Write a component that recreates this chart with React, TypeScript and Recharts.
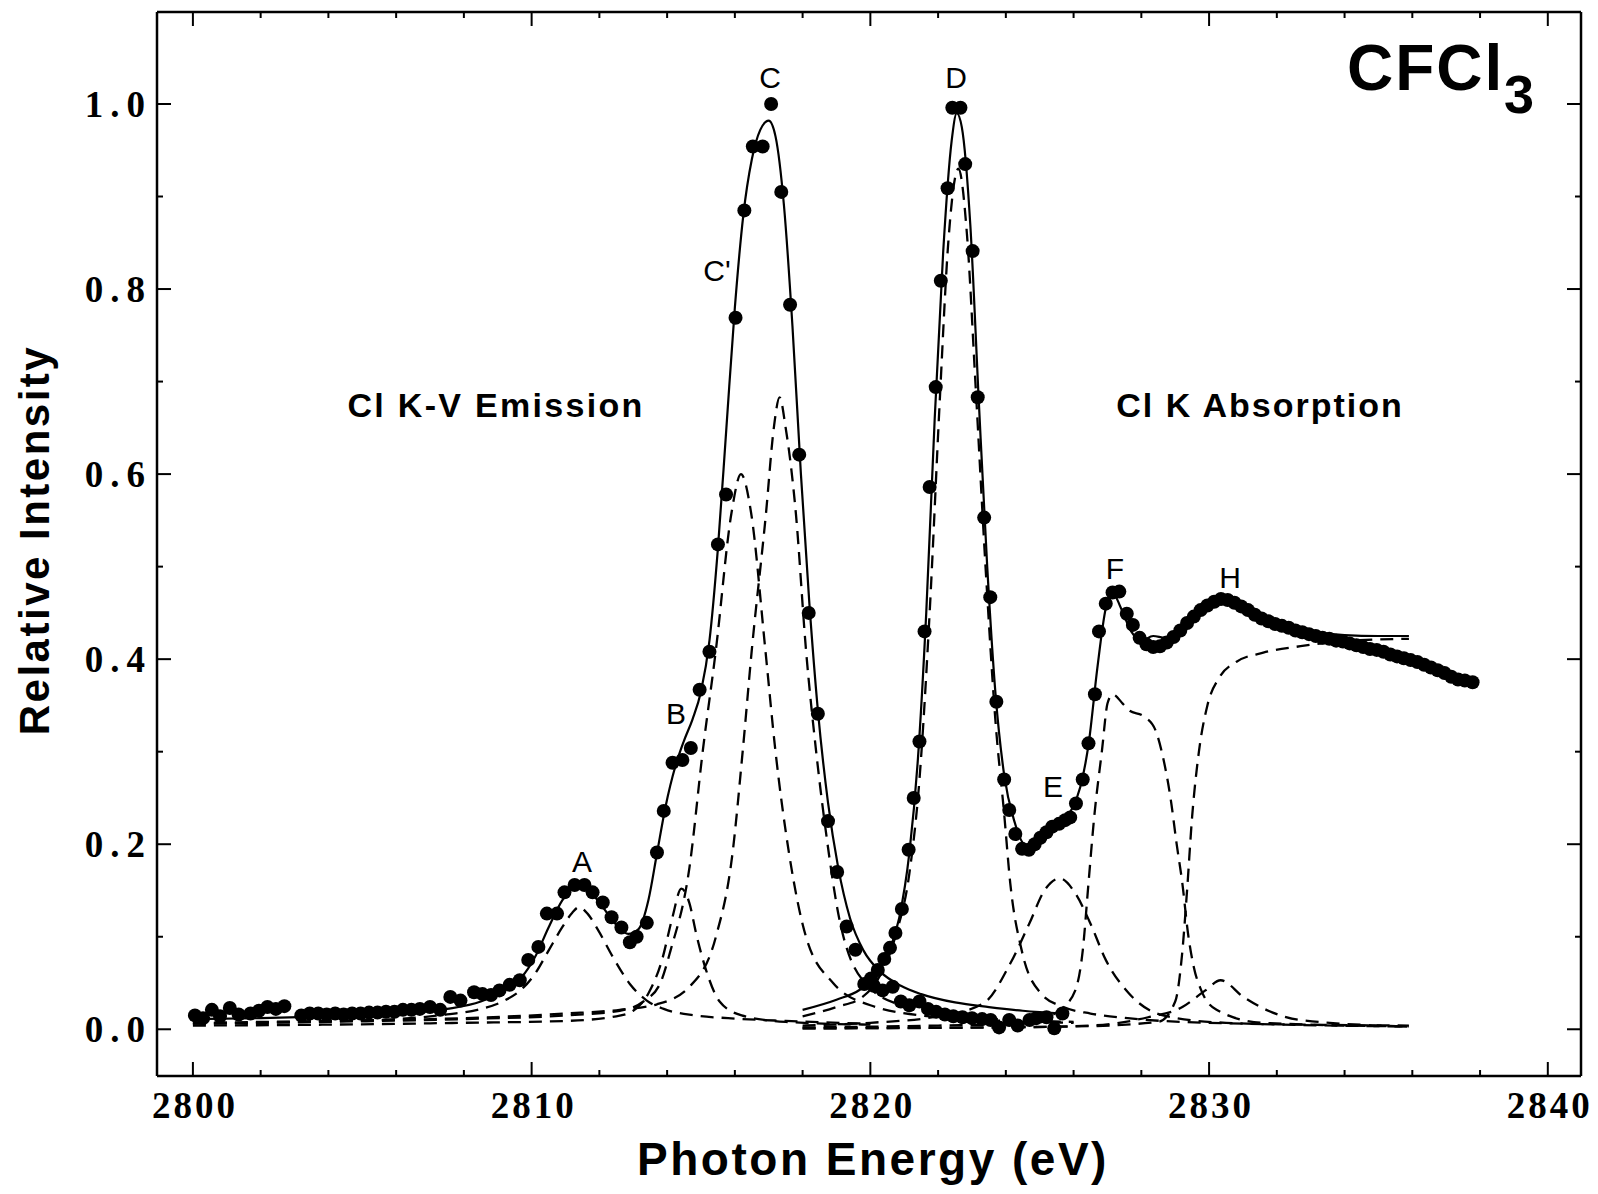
import React from "react";
import { ComposedChart, Line, Scatter, XAxis, YAxis } from "recharts";

// measured points (photon energy eV, relative intensity)
const emissionPoints = [
  [2800.06, 0.015], [2800.3, 0.012], [2800.56, 0.021], [2800.8, 0.014], [2801.09, 0.023], [2801.35, 0.016],
  [2801.7, 0.017], [2801.95, 0.02], [2802.2, 0.024], [2802.45, 0.022], [2802.7, 0.025], [2803.2, 0.015],
  [2803.45, 0.017], [2803.7, 0.017], [2803.95, 0.016], [2804.2, 0.017], [2804.45, 0.016], [2804.7, 0.017],
  [2804.95, 0.017], [2805.2, 0.018], [2805.45, 0.018], [2805.7, 0.019], [2805.95, 0.019], [2806.2, 0.021],
  [2806.45, 0.021], [2806.7, 0.022], [2807.0, 0.024], [2807.3, 0.021], [2807.6, 0.035], [2807.9, 0.031],
  [2808.3, 0.04], [2808.55, 0.038], [2808.8, 0.037], [2809.05, 0.042], [2809.35, 0.048], [2809.65, 0.053],
  [2809.9, 0.075], [2810.2, 0.089], [2810.45, 0.125], [2810.75, 0.125], [2810.97, 0.148], [2811.27, 0.156],
  [2811.56, 0.156], [2811.8, 0.148], [2812.1, 0.137], [2812.36, 0.121], [2812.65, 0.11], [2812.9, 0.094],
  [2813.1, 0.1], [2813.4, 0.115], [2813.7, 0.191], [2813.9, 0.236], [2814.16, 0.288], [2814.45, 0.291],
  [2814.7, 0.304], [2814.96, 0.367], [2815.25, 0.408], [2815.5, 0.524], [2815.74, 0.578], [2816.02, 0.769],
  [2816.28, 0.885], [2816.53, 0.954], [2816.82, 0.954], [2817.07, 1.0], [2817.37, 0.905], [2817.63, 0.783],
  [2817.9, 0.621], [2818.18, 0.45], [2818.45, 0.341], [2818.75, 0.225], [2819.02, 0.17], [2819.3, 0.111],
  [2819.56, 0.086], [2819.82, 0.049], [2820.1, 0.047], [2820.36, 0.042], [2820.66, 0.046], [2820.9, 0.03],
  [2821.15, 0.026], [2821.45, 0.03], [2821.7, 0.022], [2821.94, 0.019], [2822.2, 0.016], [2822.45, 0.014],
  [2822.72, 0.013], [2823.0, 0.012], [2823.3, 0.011], [2823.55, 0.01], [2823.8, 0.002], [2824.1, 0.01],
  [2824.35, 0.004], [2824.7, 0.01], [2824.9, 0.012], [2825.2, 0.013], [2825.43, 0.001], [2825.67, 0.017],
];

const absorptionPoints = [
  [2820.02, 0.055], [2820.22, 0.064], [2820.41, 0.076], [2820.58, 0.088], [2820.74, 0.104], [2820.93, 0.13],
  [2821.13, 0.194], [2821.28, 0.25], [2821.45, 0.311], [2821.6, 0.43], [2821.75, 0.586], [2821.93, 0.694],
  [2822.08, 0.809], [2822.28, 0.909], [2822.42, 0.996], [2822.66, 0.996], [2822.8, 0.935], [2823.02, 0.841],
  [2823.17, 0.683], [2823.36, 0.553], [2823.54, 0.467], [2823.72, 0.354], [2823.95, 0.27], [2824.1, 0.237],
  [2824.28, 0.211], [2824.48, 0.195], [2824.68, 0.194], [2824.85, 0.2], [2825.02, 0.207], [2825.2, 0.213],
  [2825.37, 0.219], [2825.57, 0.222], [2825.75, 0.226], [2825.9, 0.229], [2826.07, 0.244], [2826.27, 0.27],
  [2826.44, 0.309], [2826.63, 0.362], [2826.75, 0.43], [2826.95, 0.46], [2827.15, 0.472], [2827.35, 0.473],
  [2827.57, 0.449], [2827.75, 0.437], [2827.95, 0.423], [2828.15, 0.416], [2828.35, 0.413], [2828.55, 0.414],
  [2828.75, 0.418], [2828.95, 0.424], [2829.15, 0.431], [2829.35, 0.439], [2829.55, 0.446], [2829.75, 0.453],
  [2829.95, 0.458], [2830.15, 0.462], [2830.35, 0.465], [2830.55, 0.464], [2830.75, 0.461], [2830.95, 0.457],
  [2831.15, 0.453], [2831.35, 0.448], [2831.55, 0.444], [2831.75, 0.441], [2831.95, 0.438], [2832.15, 0.436],
  [2832.35, 0.434], [2832.55, 0.431], [2832.75, 0.429], [2832.95, 0.427], [2833.15, 0.425], [2833.35, 0.423],
  [2833.55, 0.422], [2833.75, 0.42], [2833.95, 0.419], [2834.15, 0.417], [2834.35, 0.415], [2834.55, 0.413],
  [2834.75, 0.411], [2834.95, 0.41], [2835.15, 0.408], [2835.35, 0.405], [2835.55, 0.403], [2835.75, 0.401],
  [2835.95, 0.399], [2836.15, 0.397], [2836.35, 0.394], [2836.55, 0.391], [2836.75, 0.388], [2836.95, 0.385],
  [2837.15, 0.381], [2837.35, 0.378], [2837.55, 0.377], [2837.78, 0.375],
];

// least-squares fits (solid)
const emissionFit = [
  [2800, 0.011], [2802, 0.012], [2804, 0.014], [2806, 0.017], [2807.5, 0.022], [2808.5, 0.03], [2809.2, 0.042],
  [2809.7, 0.056], [2810.1, 0.078], [2810.5, 0.11], [2810.9, 0.139], [2811.2, 0.152], [2811.45, 0.155],
  [2811.75, 0.148], [2812.1, 0.132], [2812.5, 0.113], [2812.85, 0.103], [2813.15, 0.108], [2813.45, 0.14],
  [2813.7, 0.19], [2813.95, 0.24], [2814.25, 0.285], [2814.5, 0.312], [2814.75, 0.335], [2815.0, 0.365],
  [2815.25, 0.42], [2815.5, 0.52], [2815.75, 0.65], [2816.0, 0.78], [2816.25, 0.88], [2816.5, 0.94],
  [2816.75, 0.972], [2817.0, 0.982], [2817.2, 0.965], [2817.45, 0.89], [2817.7, 0.76], [2817.95, 0.6],
  [2818.2, 0.46], [2818.45, 0.345], [2818.75, 0.245], [2819.05, 0.175], [2819.4, 0.12], [2819.8, 0.085],
  [2820.3, 0.062], [2820.9, 0.047], [2821.5, 0.038], [2822.5, 0.029], [2823.5, 0.024], [2824.5, 0.02],
  [2825.7, 0.017],
];

const absorptionFit = [
  [2818, 0.021], [2819, 0.032], [2819.7, 0.043], [2820.1, 0.056], [2820.5, 0.08], [2820.85, 0.12],
  [2821.15, 0.19], [2821.4, 0.29], [2821.65, 0.45], [2821.9, 0.66], [2822.15, 0.84], [2822.4, 0.96],
  [2822.55, 0.99], [2822.7, 0.975], [2822.95, 0.87], [2823.2, 0.68], [2823.45, 0.5], [2823.7, 0.36],
  [2823.95, 0.275], [2824.25, 0.225], [2824.55, 0.2], [2824.85, 0.198], [2825.2, 0.208], [2825.6, 0.222],
  [2825.95, 0.238], [2826.2, 0.262], [2826.45, 0.31], [2826.7, 0.39], [2826.95, 0.455], [2827.15, 0.472],
  [2827.4, 0.455], [2827.7, 0.43], [2828.0, 0.42], [2828.35, 0.425], [2828.7, 0.423], [2829.1, 0.428],
  [2829.5, 0.44], [2830.0, 0.455], [2830.5, 0.462], [2831.0, 0.456], [2831.5, 0.447], [2832.0, 0.439],
  [2833.0, 0.43], [2834.0, 0.426], [2835.0, 0.425], [2835.9, 0.425],
];

// fitted components (dashed)
const peakA = [
  [2800, 0.006], [2803, 0.008], [2806, 0.011], [2807.5, 0.016], [2808.4, 0.021], [2809.2, 0.031], [2809.7, 0.043],
  [2810.1, 0.06], [2810.5, 0.085], [2810.9, 0.11], [2811.2, 0.126], [2811.4, 0.132], [2811.65, 0.125],
  [2811.95, 0.108], [2812.4, 0.078], [2812.9, 0.049], [2813.4, 0.031], [2813.9, 0.022], [2814.8, 0.015],
  [2815.8, 0.012], [2817.5, 0.009], [2820, 0.006],
];
const peakB = [
  [2800, 0.004], [2804, 0.005], [2808, 0.007], [2811, 0.009], [2812.5, 0.014], [2813.0, 0.02], [2813.45, 0.039],
  [2813.85, 0.075], [2814.15, 0.12], [2814.42, 0.152], [2814.66, 0.136], [2814.86, 0.103], [2815.15, 0.064],
  [2815.55, 0.03], [2816.2, 0.015], [2817.5, 0.008], [2820, 0.005],
];
const peakCp = [
  [2800, 0.006], [2804, 0.008], [2808, 0.011], [2811, 0.015], [2812.6, 0.02], [2813.3, 0.03], [2813.8, 0.05],
  [2814.1, 0.085], [2814.66, 0.175], [2815.05, 0.3], [2815.44, 0.41], [2815.9, 0.558], [2816.18, 0.6],
  [2816.48, 0.558], [2816.9, 0.41], [2817.2, 0.3], [2817.6, 0.19], [2818.1, 0.1], [2818.9, 0.05],
  [2820, 0.026], [2822, 0.013], [2824, 0.009], [2826, 0.007],
];
const peakC = [
  [2800, 0.007], [2804, 0.009], [2808, 0.012], [2811, 0.017], [2812.6, 0.021], [2813.7, 0.027], [2814.66, 0.046],
  [2815.44, 0.1], [2815.93, 0.19], [2816.23, 0.3], [2816.5, 0.41], [2816.92, 0.558], [2817.15, 0.65],
  [2817.32, 0.683], [2817.5, 0.65], [2817.8, 0.558], [2818.1, 0.41], [2818.4, 0.3], [2818.7, 0.21],
  [2819.08, 0.12], [2819.87, 0.049], [2821, 0.025], [2823, 0.013], [2826, 0.008],
];
const peakD = [
  [2818, 0.014], [2819, 0.024], [2819.77, 0.035], [2820.27, 0.057], [2820.76, 0.103], [2821.15, 0.168],
  [2821.45, 0.27], [2821.75, 0.45], [2822.05, 0.68], [2822.3, 0.85], [2822.6, 0.93], [2822.85, 0.86],
  [2823.1, 0.7], [2823.4, 0.5], [2823.7, 0.33], [2823.95, 0.233], [2824.13, 0.158], [2824.47, 0.085],
  [2825.03, 0.039], [2825.7, 0.024], [2826.5, 0.017], [2827.6, 0.012], [2829.9, 0.007], [2835.9, 0.004],
];
const peakE = [
  [2818, 0.004], [2820, 0.007], [2822, 0.014], [2823.34, 0.028], [2824.13, 0.071], [2824.69, 0.114],
  [2825.14, 0.15], [2825.59, 0.163], [2826.05, 0.147], [2826.5, 0.114], [2826.95, 0.075], [2827.63, 0.039],
  [2828.64, 0.015], [2830.5, 0.007], [2835.9, 0.003],
];
const peakF = [
  [2818, 0.002], [2822, 0.004], [2824.24, 0.006], [2825.0, 0.011], [2825.6, 0.021], [2826.05, 0.042],
  [2826.27, 0.085], [2826.44, 0.158], [2826.61, 0.23], [2826.84, 0.302], [2827.0, 0.352], [2827.15, 0.362],
  [2827.45, 0.352], [2827.63, 0.345], [2828.08, 0.338], [2828.42, 0.323], [2828.64, 0.294], [2828.87, 0.248],
  [2829.04, 0.201], [2829.21, 0.158], [2829.38, 0.103], [2829.55, 0.067], [2829.77, 0.042], [2830.22, 0.021],
  [2831.58, 0.007], [2835.9, 0.003],
];
const peakG = [
  [2818, 0.001], [2824, 0.002], [2826.5, 0.004], [2828.2, 0.013], [2829.21, 0.024], [2829.89, 0.042],
  [2830.34, 0.053], [2831.01, 0.035], [2831.69, 0.021], [2832.71, 0.01], [2835.9, 0.003],
];
const edgeH = [
  [2818, 0.001], [2826, 0.003], [2828.5, 0.008], [2829.0, 0.03], [2829.2, 0.08], [2829.35, 0.15],
  [2829.5, 0.23], [2829.7, 0.3], [2829.95, 0.35], [2830.3, 0.38], [2830.8, 0.397], [2831.6, 0.407],
  [2832.7, 0.414], [2833.8, 0.419], [2835.9, 0.422],
];

const components = [peakA, peakB, peakCp, peakC, peakD, peakE, peakF, peakG, edgeH];

const xTicks = [2800, 2802, 2804, 2806, 2808, 2810, 2812, 2814, 2816, 2818, 2820, 2822, 2824, 2826, 2828, 2830, 2832, 2834, 2836, 2838, 2840];
const yTicks = [0, 0.1, 0.2, 0.3, 0.4, 0.5, 0.6, 0.7, 0.8, 0.9, 1.0];

const xDomain = [2798.94, 2840.98];
const yDomain = [-0.0505, 1.0994];

const rows = (pts: number[][]) => pts.map(([e, v]) => ({ e, v }));

const serifBold = { fontFamily: "'Liberation Serif', serif", fontWeight: 700, fontSize: 37 };
const sansBold = "'Liberation Sans', Arial, sans-serif";

const isMajorX = (v: number) => v % 10 === 0;
const isMajorY = (v: number) => Math.round(v * 10) % 2 === 0;

function BottomTick({ x, y, payload }: any) {
  const major = isMajorX(payload.value);
  return (
    <g>
      <line x1={x} x2={x} y1={y} y2={y - (major ? 14 : 6)} stroke="#000" strokeWidth={2} />
      {major && (
        <text x={x} y={y + 42} dx={2} textAnchor="middle" style={{ ...serifBold, letterSpacing: 3 }} fill="#000">
          {payload.value}
        </text>
      )}
    </g>
  );
}

function TopTick({ x, y, payload }: any) {
  const major = isMajorX(payload.value);
  return <line x1={x} x2={x} y1={y} y2={y + (major ? 14 : 6)} stroke="#000" strokeWidth={2} />;
}

function LeftTick({ x, y, payload }: any) {
  const major = isMajorY(payload.value);
  return (
    <g>
      <line x1={x} x2={x + (major ? 14 : 6)} y1={y} y2={y} stroke="#000" strokeWidth={2} />
      {major && (
        <text x={x - 12} y={y + 13} dx={7} textAnchor="end" style={{ ...serifBold, letterSpacing: 7 }} fill="#000">
          {payload.value.toFixed(1)}
        </text>
      )}
    </g>
  );
}

function RightTick({ x, y, payload }: any) {
  const major = isMajorY(payload.value);
  return <line x1={x} x2={x - (major ? 14 : 6)} y1={y} y2={y} stroke="#000" strokeWidth={2} />;
}

const Dot = (p: any) => <circle cx={p.cx} cy={p.cy} r={7} fill="#000" />;

const axisLine = { stroke: "#000", strokeWidth: 2.5 };

export default function App() {
  return (
    <div style={{ position: "absolute", left: 0, top: 0, width: 1598, height: 1194, background: "#fff" }}>
      <ComposedChart width={1598} height={1194} margin={{ top: 2, right: 7, bottom: 78, left: 97 }}>
        <XAxis
          dataKey="e"
          type="number"
          domain={xDomain}
          allowDataOverflow
          ticks={xTicks}
          interval={0}
          tick={<BottomTick />}
          tickLine={false}
          tickSize={0}
          tickMargin={0}
          height={40}
          axisLine={axisLine}
        />
        <XAxis
          xAxisId="top"
          orientation="top"
          dataKey="e"
          type="number"
          domain={xDomain}
          allowDataOverflow
          ticks={xTicks}
          interval={0}
          tick={<TopTick />}
          tickLine={false}
          tickSize={0}
          tickMargin={0}
          height={10}
          axisLine={axisLine}
        />
        <YAxis
          dataKey="v"
          type="number"
          domain={yDomain}
          allowDataOverflow
          ticks={yTicks}
          interval={0}
          tick={<LeftTick />}
          tickLine={false}
          tickSize={0}
          tickMargin={0}
          width={60}
          axisLine={axisLine}
        />
        <YAxis
          yAxisId="right"
          orientation="right"
          dataKey="v"
          type="number"
          domain={yDomain}
          allowDataOverflow
          ticks={yTicks}
          interval={0}
          tick={<RightTick />}
          tickLine={false}
          tickSize={0}
          tickMargin={0}
          width={10}
          axisLine={axisLine}
        />

        {components.map((c, i) => (
          <Line
            key={`comp-${i}`}
            data={rows(c)}
            dataKey="v"
            type="monotone"
            stroke="#000"
            strokeWidth={2.3}
            strokeDasharray="13 8"
            dot={false}
            activeDot={false}
            isAnimationActive={false}
          />
        ))}
        <Line data={rows(emissionFit)} dataKey="v" type="monotone" stroke="#000" strokeWidth={2.2} dot={false} activeDot={false} isAnimationActive={false} />
        <Line data={rows(absorptionFit)} dataKey="v" type="monotone" stroke="#000" strokeWidth={2.2} dot={false} activeDot={false} isAnimationActive={false} />
        {/* invisible series so the frame axes on top/right have a data source */}
        <Line xAxisId="top" yAxisId="right" data={rows(absorptionFit)} dataKey="v" stroke="none" dot={false} activeDot={false} isAnimationActive={false} />
        <Scatter data={rows(emissionPoints)} shape={Dot} isAnimationActive={false} />
        <Scatter data={rows(absorptionPoints)} shape={Dot} isAnimationActive={false} />
      </ComposedChart>

      <svg width={1598} height={1194} style={{ position: "absolute", left: 0, top: 0, pointerEvents: "none" }}>
        <g fontFamily={sansBold} fontWeight={700} fill="#000">
          <text x={1347} y={90} fontSize={64} letterSpacing={2}>CFCl</text>
          <text x={1504} y={113} fontSize={54}>3</text>
          <text x={496} y={417} fontSize={34} letterSpacing={2.3} textAnchor="middle">Cl K-V Emission</text>
          <text x={1260} y={417} fontSize={34} letterSpacing={2} textAnchor="middle">Cl K Absorption</text>
          <text x={873} y={1175} fontSize={46} letterSpacing={2.5} textAnchor="middle">Photon Energy (eV)</text>
          <text
            x={0}
            y={0}
            fontSize={42}
            letterSpacing={2.5}
            textAnchor="middle"
            transform="translate(49 540) rotate(-90)"
          >
            Relative Intensity
          </text>
        </g>
        <g fontFamily="'Liberation Sans', Arial, sans-serif" fontSize={30} fill="#000" textAnchor="middle">
          <text x={582} y={872}>A</text>
          <text x={676} y={724}>B</text>
          <text x={717} y={281}>C'</text>
          <text x={770} y={88}>C</text>
          <text x={956} y={88}>D</text>
          <text x={1053} y={797}>E</text>
          <text x={1115} y={579}>F</text>
          <text x={1230} y={588}>H</text>
        </g>
      </svg>
    </div>
  );
}
